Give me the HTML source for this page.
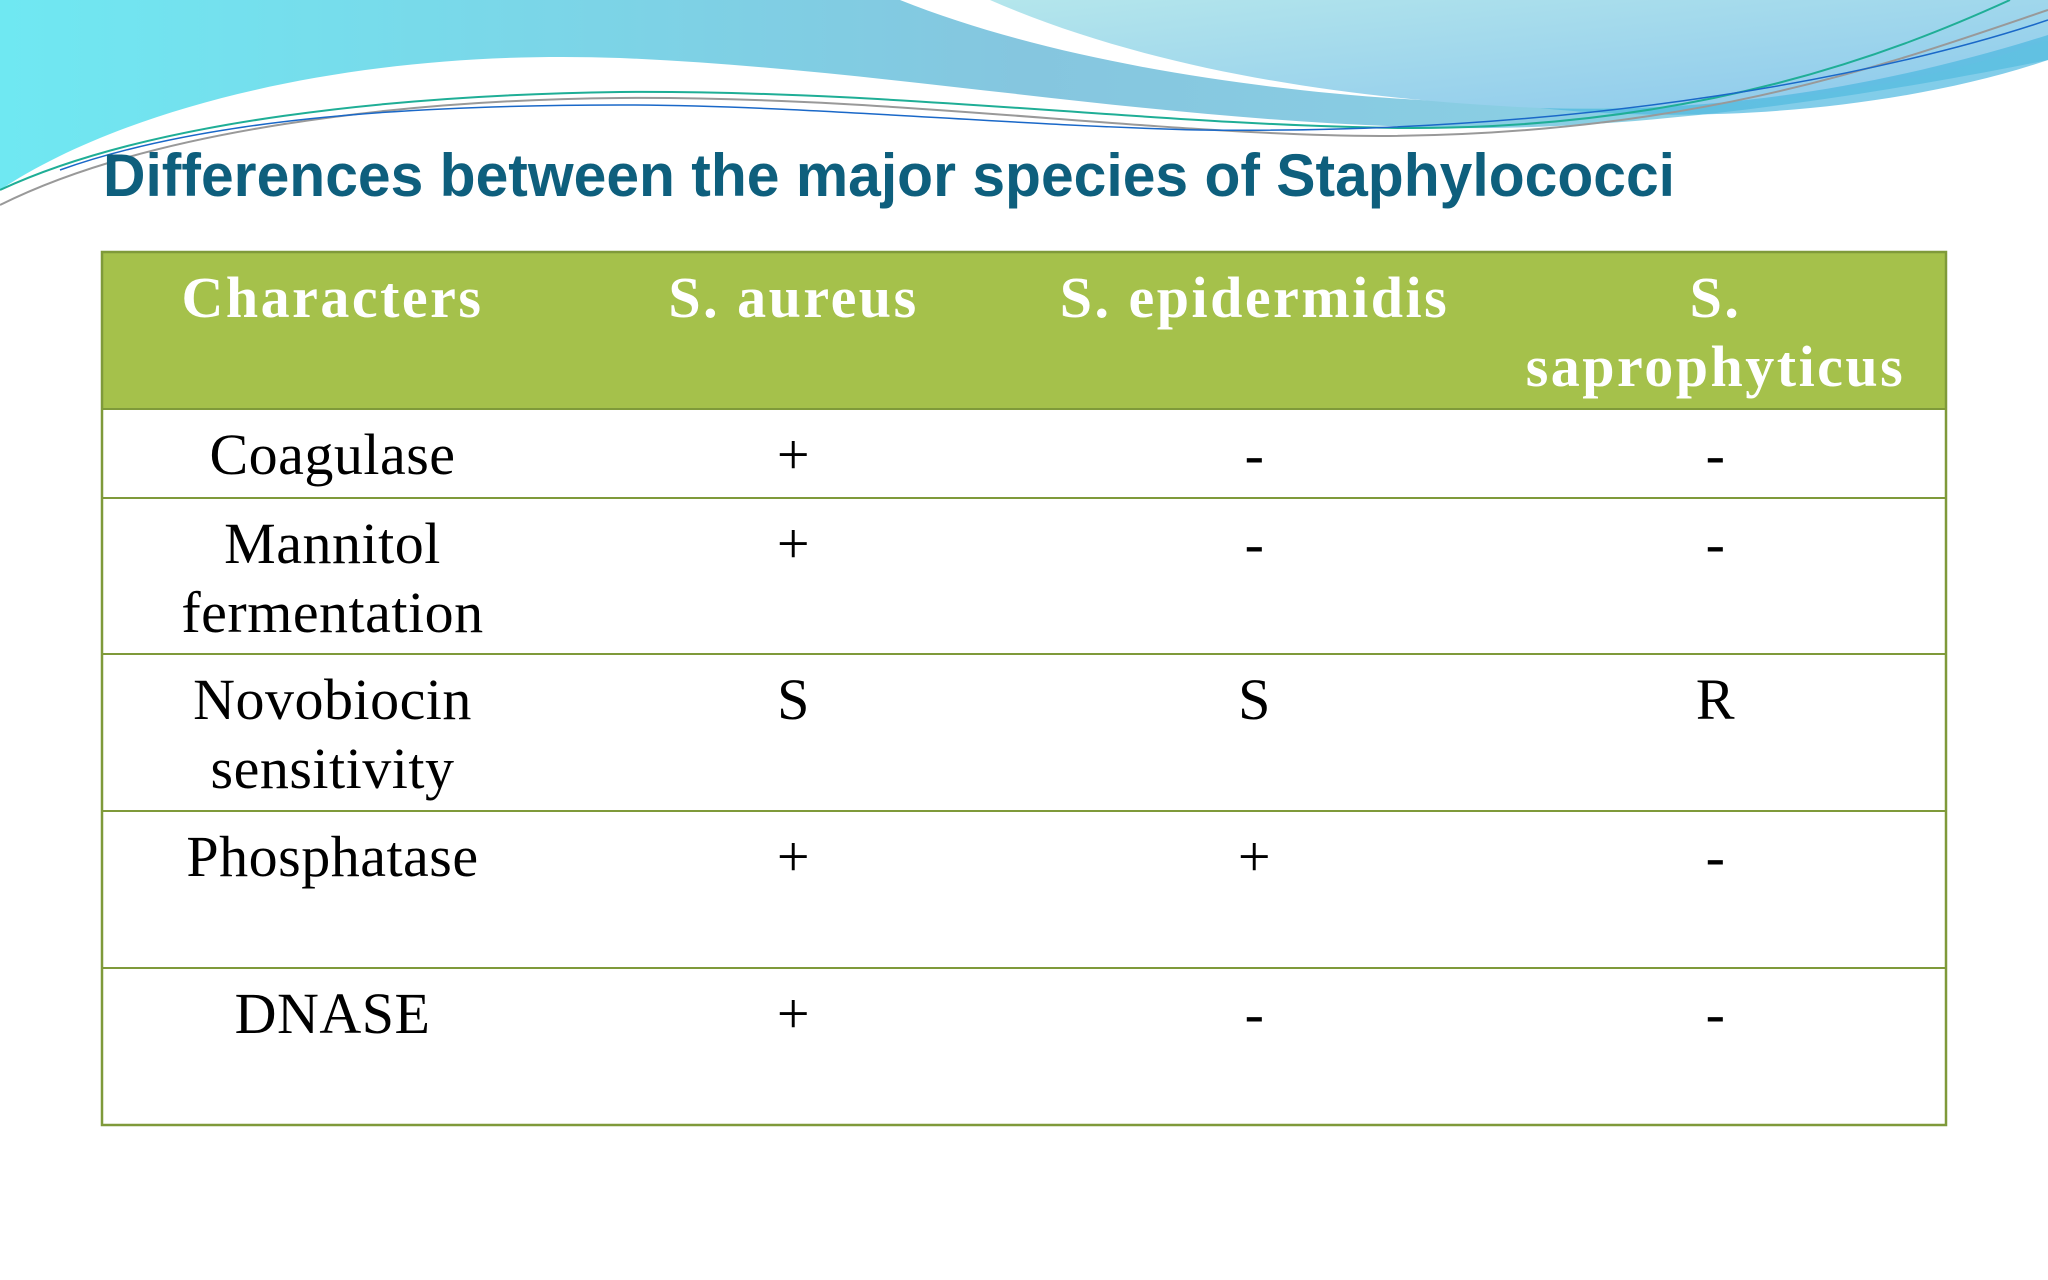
<!DOCTYPE html>
<html><head><meta charset="utf-8"><style>
html,body{margin:0;padding:0;background:#fff;}
#slide{position:relative;width:2048px;height:1280px;overflow:hidden;background:#fff;}
svg{position:absolute;left:0;top:0;}
</style></head><body>
<div id="slide">
<svg width="2048" height="1280">
<defs>
<linearGradient id="g1" x1="0" y1="0" x2="1" y2="0">
<stop offset="0" stop-color="#6fe8f2"/><stop offset="0.5" stop-color="#85c6df"/><stop offset="1" stop-color="#8fd6e8"/></linearGradient>
<linearGradient id="g2" x1="0" y1="0" x2="1" y2="1">
<stop offset="0" stop-color="#b4e6ec"/><stop offset="1" stop-color="#8cc8ec"/></linearGradient>
</defs>
<g>
<path d="M0,0 L2048,0 L2048,60 C1800,110 1600,130 1450,128 C1150,122 900,70 620,58 C350,48 120,110 0,190 Z" fill="url(#g1)"/>
<path d="M900,0 C1050,60 1250,90 1420,100 C1700,110 1900,80 2048,40 L2048,0 Z" fill="#ffffff"/>
<path d="M990,0 C1150,70 1350,100 1540,108 C1800,112 1950,75 2048,40 L2048,0 Z" fill="url(#g2)"/>
<path d="M1540,108 C1750,115 1920,75 2048,35 L2048,60 C1900,110 1700,125 1540,108 Z" fill="#4db8e0" opacity="0.7"/>
<path d="M0,190 C150,120 400,95 620,92 C900,90 1150,125 1400,128 C1700,130 1900,50 2010,0" fill="none" stroke="#1fae96" stroke-width="2"/>
<path d="M0,205 C150,130 400,100 620,98 C900,96 1150,135 1380,136 C1700,135 1900,60 2048,10" fill="none" stroke="#999" stroke-width="2"/>
<path d="M60,170 C200,120 400,105 620,105 C800,105 1000,125 1200,130 C1600,135 1900,70 2048,20" fill="none" stroke="#1a68c8" stroke-width="1.5"/>
</g>
<text x="103" y="196" font-family="Liberation Sans, sans-serif" font-weight="bold" font-size="60" fill="#0e5f7d" textLength="1572" lengthAdjust="spacingAndGlyphs">Differences between the major species of Staphylococci</text>
<g id="tbl"></g>
</svg>
</div>
<script>
const headers=[["Characters"],["S. aureus"],["S. epidermidis"],["S.","saprophyticus"]];
const characters=[["Coagulase"],["Mannitol","fermentation"],["Novobiocin","sensitivity"],["Phosphatase"],["DNASE"]];
const aureus=["+","+","S","+","+"];
const epidermidis=["-","-","S","+","-"];
const saprophyticus=["-","-","R","-","-"];
const rowTops=[252,409,498,654,811,968,1125];
const colX=[102,563,1024,1485,1946];
const NS="http://www.w3.org/2000/svg";
const g=document.getElementById('tbl');
function mk(tag,attrs){const e=document.createElementNS(NS,tag);for(const k in attrs)e.setAttribute(k,attrs[k]);g.appendChild(e);return e;}
const hdr=mk('rect',{x:102,y:252,width:1844,height:157,fill:'#a5c14b'});


function txt(lines,cx,top,bold,color,name){
  lines.forEach((l,i)=>{
    const t=mk('text',{x:cx,y:top+65+i*69,'text-anchor':'middle','font-family':'Liberation Serif, serif','font-size':58,'font-weight':bold?'bold':'normal','letter-spacing':bold?'2.5':'0.5',fill:color});
    t.textContent=l;
    
    
  });
}
headers.forEach((h,c)=>txt(h,(colX[c]+colX[c+1])/2,252,true,'#ffffff','column-header'));
const cols=[characters.map(x=>x),aureus.map(x=>[x]),epidermidis.map(x=>[x]),saprophyticus.map(x=>[x])];
for(let r=0;r<characters.length;r++){
  for(let c=0;c<4;c++){
    txt(cols[c][r],(colX[c]+colX[c+1])/2,rowTops[r+1],false,'#000000','table-cell');
  }
}
for(let i=1;i<rowTops.length-1;i++){
  const ln=mk('line',{x1:102,x2:1946,y1:rowTops[i],y2:rowTops[i],stroke:'#7f9a3a','stroke-width':2});
  
  
}
const bd=mk('rect',{x:102,y:252,width:1844,height:873,fill:'none',stroke:'#7f9a3a','stroke-width':2.5});


</script>
</body></html>
